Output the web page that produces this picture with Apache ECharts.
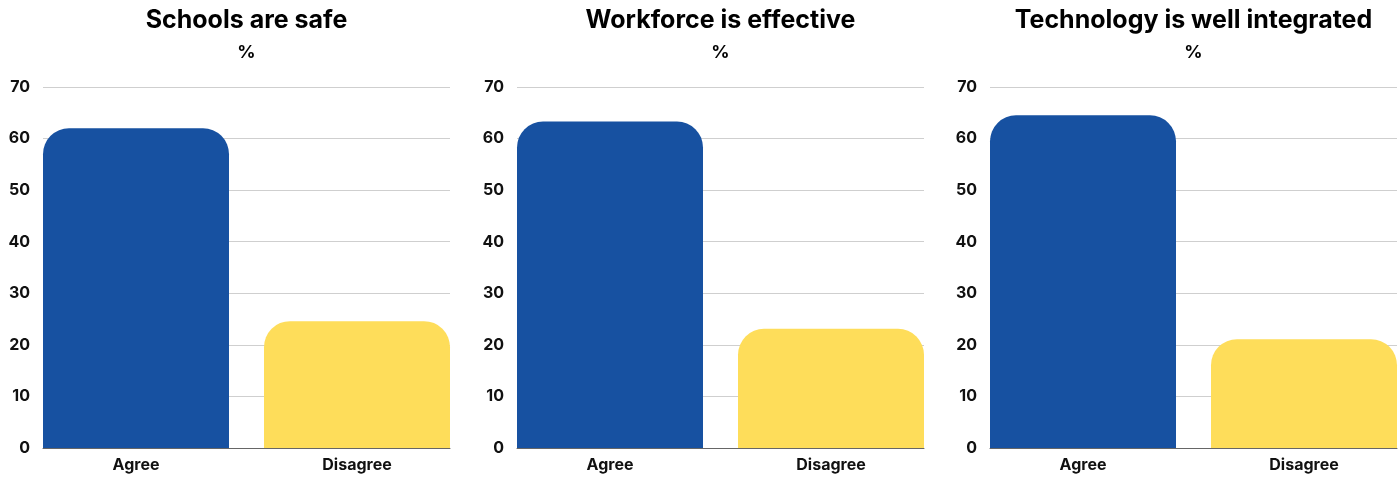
<!DOCTYPE html>
<html>
<head>
<meta charset="utf-8">
<script src="https://cdn.jsdelivr.net/npm/echarts@6/dist/echarts.min.js"></script>
<style>html,body{margin:0;padding:0;background:#fff}#c{width:1399px;height:477px}</style>
</head>
<body>
<div id="c"></div>
<script>
const titles = ["Schools are safe", "Workforce is effective", "Technology is well integrated"];
const unitLabel = "%";
const categories = ["Agree", "Disagree"];
const schoolsSafe = [62, 24.6];
const workforceEffective = [63.3, 23.1];
const technologyIntegrated = [64.5, 21.1];
const yTicks = [0, 10, 20, 30, 40, 50, 60, 70];
const colors = ["#1751A1", "#FEDD5A"];

const panels = [schoolsSafe, workforceEffective, technologyIntegrated];
const FONT = "Inter";
const W = 1399;
const lefts = [43, 517, 990];
const gw = 407, gap = 35, barW = 186;

const option = { animation: false, backgroundColor: "#fff", title: [], grid: [], xAxis: [], yAxis: [], series: [] };

panels.forEach((vals, i) => {
  const L = lefts[i];
  const cx = L + gw / 2;
  option.title.push({ text: titles[i], left: cx, top: 8, padding: 0, textAlign: "center",
    textStyle: { fontFamily: FONT, fontWeight: "bold", fontSize: 25, color: "#000" } });
  option.title.push({ text: unitLabel, left: cx, top: 44, padding: 0, textAlign: "center",
    textStyle: { fontFamily: FONT, fontWeight: "bold", fontSize: 18, color: "#000" } });
  // grid for gridlines / y labels
  option.grid.push({ left: L, width: gw, top: 87, bottom: 29, outerBoundsMode: "none", containLabel: false });
  // grid for bars (wider, so bars are flush with gridline ends)
  option.grid.push({ left: L - gap / 2, width: gw + gap, top: 87, bottom: 29, outerBoundsMode: "none", containLabel: false });
  const g0 = i * 2, g1 = i * 2 + 1;
  option.xAxis.push({ type: "category", gridIndex: g0, data: categories,
    axisLine: { show: true, lineStyle: { color: "#666", width: 1 } },
    axisTick: { show: false }, axisLabel: { show: false } });
  option.xAxis.push({ type: "category", gridIndex: g1, data: categories,
    axisLine: { show: false }, axisTick: { show: false },
    axisLabel: { margin: 9, fontFamily: FONT, fontWeight: "bold", fontSize: 16, color: "#111" } });
  option.yAxis.push({ type: "value", gridIndex: g0, min: yTicks[0], max: yTicks[yTicks.length - 1], interval: 10,
    axisLine: { show: false }, axisTick: { show: false },
    axisLabel: { margin: 13, fontFamily: FONT, fontWeight: "bold", fontSize: 16, color: "#111" },
    splitLine: { lineStyle: { color: "#cfcfcf", width: 1 } } });
  option.yAxis.push({ type: "value", gridIndex: g1, min: 0, max: 70, show: false, splitLine: { show: false } });
  option.series.push({ type: "bar", xAxisIndex: g1, yAxisIndex: g1, barWidth: barW, z: 3,
    data: vals.map((v, k) => ({ value: v, itemStyle: { color: colors[k], borderRadius: [26, 26, 0, 0] } })) });
});

const chart = echarts.init(document.getElementById("c"), null, { renderer: "canvas" });
chart.setOption(option);
</script>
</body>
</html>
